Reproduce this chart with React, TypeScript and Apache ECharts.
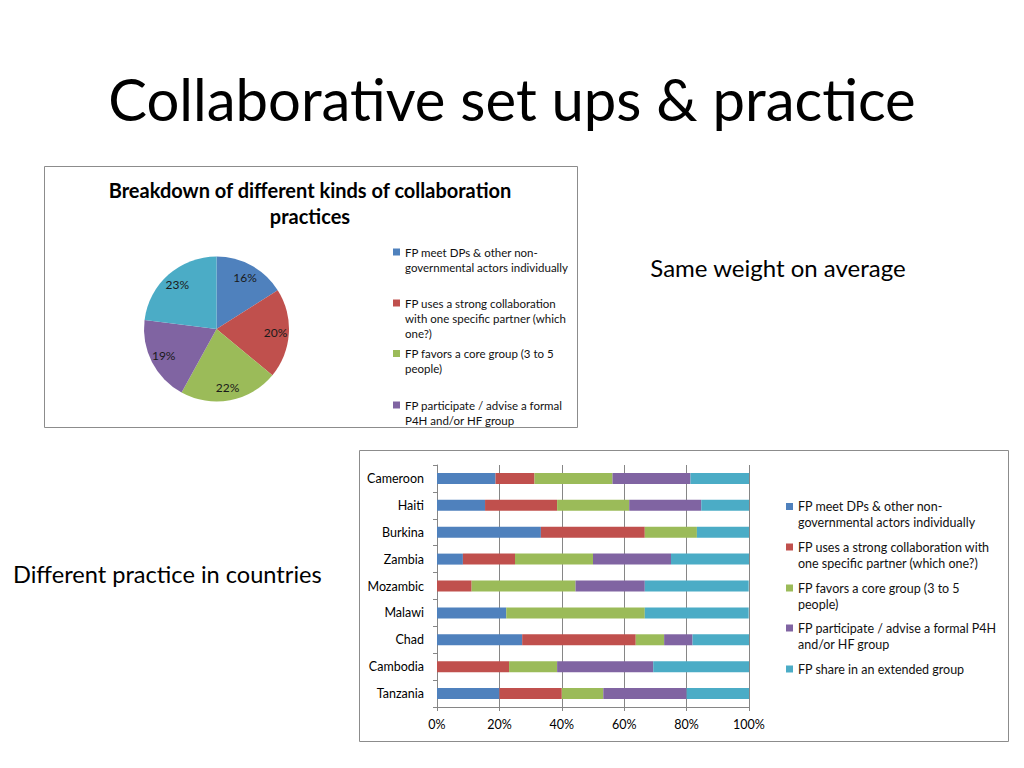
import React, { useEffect, useRef } from 'react';
import * as echarts from 'echarts';

const FONT = 'Lato';

const COUNTRIES = ['Cameroon', 'Haiti', 'Burkina', 'Zambia', 'Mozambic', 'Malawi', 'Chad', 'Cambodia', 'Tanzania'];

const PRACTICES = [
  'FP meet DPs & other non-governmental actors individually',
  'FP uses a strong collaboration with one specific partner (which one?)',
  'FP favors a core group (3 to 5 people)',
  'FP participate / advise a formal P4H and/or HF group',
  'FP share in an extended group',
];

// pie: overall share of each practice (%)
const PIE_SHARES = [16, 20, 22, 19, 23];

// bars: share per country (%), one array per practice, countries in order above
const MEET_INDIVIDUALLY = [18.75, 15.4, 33.3, 8.3, 0, 22.2, 27.3, 0, 20];
const STRONG_PARTNER = [12.5, 23.1, 33.3, 16.7, 11.1, 0, 36.4, 23.1, 20];
const CORE_GROUP = [25, 23.1, 16.7, 25, 33.3, 44.4, 9.1, 15.4, 13.3];
const FORMAL_GROUP = [25, 23.1, 0, 25, 22.2, 0, 9.1, 30.8, 26.7];
const EXTENDED_GROUP = [18.75, 15.4, 16.7, 25, 33.3, 33.3, 18.2, 30.8, 20];
const BAR_VALUES = [MEET_INDIVIDUALLY, STRONG_PARTNER, CORE_GROUP, FORMAL_GROUP, EXTENDED_GROUP];

const X_TICKS = [0, 20, 40, 60, 80, 100];

const COLORS = ['#4F81BD', '#C0504D', '#9BBB59', '#8064A2', '#4BACC6'];

// legend wrapping as in the slide
const PIE_LEGEND_TEXT = [
  'FP meet DPs & other non-\ngovernmental actors individually',
  'FP uses a strong collaboration\nwith one specific partner (which\none?)',
  'FP favors a core group (3 to 5\npeople)',
  'FP participate / advise a formal\nP4H and/or HF group',
];
const BAR_LEGEND_TEXT = [
  'FP meet DPs & other non-\ngovernmental actors individually',
  'FP uses a strong collaboration with\none specific partner (which one?)',
  'FP favors a core group (3 to 5\npeople)',
  'FP participate / advise a formal P4H\nand/or HF group',
  'FP share in an extended group',
];
const PIE_LEGEND_Y = [252, 303, 353.5, 405];
const BAR_LEGEND_Y = [506.5, 547, 588, 628, 669];

const AXIS_GREY = '#868686';

function legendItem(name: string, text: string, left: number, firstLineY: number, fontSize: number, lh: number) {
  const n = text.split('\n').length;
  // blank lines on top so the centred text block puts its first line on the icon
  const shifted = '\n'.repeat(n - 1) + text;
  return {
    data: [name],
    left,
    top: firstLineY - ((2 * n - 1) * lh) / 2,
    orient: 'vertical',
    padding: 0,
    icon: 'rect',
    itemWidth: 7,
    itemHeight: 7,
    selectedMode: false,
    formatter: () => shifted,
    textStyle: {
      fontFamily: FONT,
      fontSize,
      lineHeight: lh,
      color: '#111',
    },
  };
}

export default function App() {
  const chartRef = useRef<HTMLDivElement>(null);

  useEffect(() => {
    if (!chartRef.current) return;
    const chart = echarts.init(chartRef.current, undefined, { renderer: 'svg' });

    const pieData = PRACTICES.map((name, i) => ({
      name,
      value: PIE_SHARES[i],
      itemStyle: { color: COLORS[i] },
    }));

    const option = {
      animation: false,
      backgroundColor: '#fff',
      graphic: [
        {
          type: 'text',
          x: 512,
          y: 98,
          style: {
            text: 'Collaborative set ups & practice',
            fontFamily: FONT,
            fontSize: 58,
            fill: '#000',
            align: 'center',
            verticalAlign: 'middle',
          },
        },
        {
          type: 'rect',
          shape: { x: 44.5, y: 166.5, width: 533, height: 261 },
          style: { fill: 'none', stroke: '#8C8C8C', lineWidth: 1 },
        },
        {
          type: 'rect',
          shape: { x: 359.5, y: 450.5, width: 649, height: 291 },
          style: { fill: 'none', stroke: '#8C8C8C', lineWidth: 1 },
        },
        {
          type: 'text',
          x: 310,
          y: 190,
          style: {
            text: 'Breakdown of different kinds of collaboration',
            fontFamily: FONT,
            fontWeight: 'bold',
            fontSize: 20,
            fill: '#000',
            align: 'center',
            verticalAlign: 'middle',
          },
        },
        {
          type: 'text',
          x: 310,
          y: 216,
          style: {
            text: 'practices',
            fontFamily: FONT,
            fontWeight: 'bold',
            fontSize: 20,
            fill: '#000',
            align: 'center',
            verticalAlign: 'middle',
          },
        },
        {
          type: 'text',
          x: 778,
          y: 267,
          style: {
            text: 'Same weight on average',
            fontFamily: FONT,
            fontSize: 24,
            fill: '#000',
            align: 'center',
            verticalAlign: 'middle',
          },
        },
        {
          type: 'text',
          x: 13,
          y: 574,
          style: {
            text: 'Different practice in countries',
            fontFamily: FONT,
            fontSize: 23.6,
            fill: '#000',
            align: 'left',
            verticalAlign: 'middle',
          },
        },
      ],
      legend: [
        ...PIE_LEGEND_TEXT.map((t, i) => legendItem(PRACTICES[i], t, 393, PIE_LEGEND_Y[i], 11.5, 15)),
        ...BAR_LEGEND_TEXT.map((t, i) => legendItem(PRACTICES[i], t, 786, BAR_LEGEND_Y[i], 12.5, 16)),
      ],
      grid: { left: 437, top: 465, width: 312, height: 242 },
      xAxis: {
        type: 'value',
        min: X_TICKS[0],
        max: X_TICKS[X_TICKS.length - 1],
        interval: X_TICKS[1] - X_TICKS[0],
        axisLine: { show: true, lineStyle: { color: AXIS_GREY } },
        axisTick: { show: true, length: 4, lineStyle: { color: AXIS_GREY } },
        splitLine: { show: true, lineStyle: { color: AXIS_GREY } },
        axisLabel: {
          formatter: '{value}%',
          fontFamily: FONT,
          fontSize: 12.5,
          color: '#000',
          margin: 11,
        },
      },
      yAxis: {
        type: 'category',
        data: COUNTRIES,
        inverse: true,
        axisLine: { show: true, lineStyle: { color: AXIS_GREY } },
        axisTick: { show: true, length: 4, lineStyle: { color: AXIS_GREY } },
        axisLabel: {
          fontFamily: FONT,
          fontSize: 12.5,
          color: '#000',
          margin: 13,
        },
      },
      series: [
        {
          type: 'pie',
          center: [216.5, 329],
          radius: [0, 72.5],
          startAngle: 90,
          clockwise: true,
          data: pieData,
          label: { show: false },
          labelLine: { show: false },
          emphasis: { disabled: true },
          silent: true,
        },
        {
          // transparent overlay, only to place labels at ~3/4 of the radius
          type: 'pie',
          center: [216.5, 329],
          radius: [40, 72.5],
          startAngle: 90,
          clockwise: true,
          data: PRACTICES.map((name, i) => ({ name, value: PIE_SHARES[i] })),
          itemStyle: { color: 'rgba(0,0,0,0)' },
          label: {
            show: true,
            position: 'inside',
            formatter: '{c}%',
            fontFamily: FONT,
            fontSize: 12,
            color: '#1a1a1a',
          },
          labelLine: { show: false },
          emphasis: { disabled: true },
          silent: true,
        },
        ...PRACTICES.map((name, i) => ({
          type: 'bar',
          name,
          stack: 'total',
          barWidth: 11,
          data: BAR_VALUES[i],
          itemStyle: { color: COLORS[i] },
          emphasis: { disabled: true },
          silent: true,
        })),
      ],
    };

    chart.setOption(option as any);

    const handleResize = () => chart.resize();
    window.addEventListener('resize', handleResize);
    return () => {
      window.removeEventListener('resize', handleResize);
      chart.dispose();
    };
  }, []);

  return (
    <div style={{ position: 'absolute', left: 0, top: 0, width: 1024, height: 768, background: '#fff' }}>
      <div ref={chartRef} style={{ width: '100%', height: '100%' }} />
    </div>
  );
}
